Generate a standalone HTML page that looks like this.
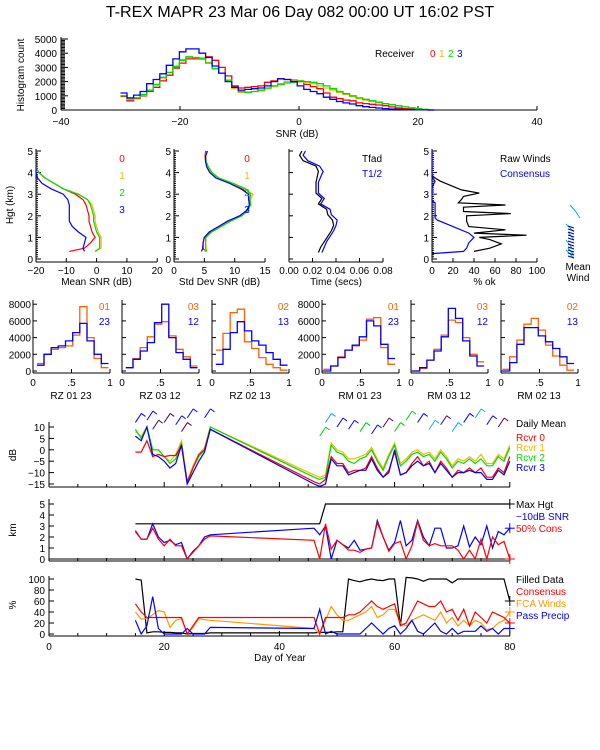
<!DOCTYPE html>
<html><head><meta charset="utf-8"><style>
body{margin:0;background:#fff;}
svg{display:block;font-family:"Liberation Sans",sans-serif;}
text{font-size:10px;}
</style></head><body>
<svg id="c" width="600" height="750" xmlns="http://www.w3.org/2000/svg">
<rect width="600" height="750" fill="#fff"/>
<text x="300" y="17" text-anchor="middle" style="font-size:16px">T-REX  MAPR 23 Mar 06 Day 082  00:00 UT  16:02  PST</text>
</svg>
<script>
// ---- top histogram data ----
const histEdgeStart = -30, histBinW = 1.1;
const histR0 = [950,650,800,1000,1300,1600,2050,2450,2950,3300,3600,3600,3600,3750,3500,3000,2400,1700,1550,1600,1650,1700,1950,2050,2200,2150,2100,2000,1800,1650,1500,1200,900,800,700,650,500,450,400,350,300,220,150,100,60,30,10,0];
const histR1 = [1000,750,850,1050,1400,1750,2250,2650,3100,3550,3700,3700,3650,3350,2950,2600,2100,1500,1250,1250,1300,1350,1500,1650,1850,2000,2050,2050,1950,1850,1700,1550,1400,1250,1100,950,800,700,600,520,430,360,290,220,150,90,40,0];
const histR2 = [1000,800,850,1100,1400,1800,2300,2650,3050,3500,3750,3700,3650,3300,2900,2600,2100,1600,1300,1250,1300,1400,1550,1700,1800,1900,1950,2050,2000,1950,1850,1700,1500,1300,1150,1000,850,750,650,550,450,380,300,220,150,90,40,0];
const histR3 = [1200,850,1050,1300,1850,2150,2550,3150,3600,4100,4300,4300,4000,3700,3100,2600,2000,1600,1400,1450,1500,1550,1700,2000,2200,2150,2000,1700,1450,1300,1150,900,750,600,500,420,300,230,180,140,100,70,50,30,20,10,5,0];
const histXTicks = [-40,-20,0,20,40];
const histYTicks = [0,1000,2000,3000,4000,5000];
// ---- profiles ----
const snrH = [0.35,0.5,0.75,1.0,1.25,1.5,1.75,2.0,2.25,2.5,2.75,3.0,3.25,3.5,3.75,4.0,4.2];
const snrR0 = [-9,-4,-2,-0.5,-1.5,-2,-2.5,-2.5,-3,-3.5,-4.5,-7,-11,-14,-17,-19,-20];
const snrR1 = [-0.5,1.5,1.5,1.5,0.5,0,-0.5,-0.5,-1,-1.5,-3,-6,-11,-14,-17,-19,-20];
const snrR2 = [-0.5,1,1,1,0,-0.5,-1,-1,-1.5,-2,-3,-6,-11,-14,-17,-19,-20];
const snrR3 = [-4,-4.5,-4,-3.5,-6,-8,-9,-9,-9,-9,-9.5,-11,-15,-18,-19.5,-20,-20];
const sdH = [0.35,0.5,0.75,1.0,1.25,1.5,1.75,2.0,2.25,2.5,2.75,3.0,3.25,3.5,3.75,4.0,4.25,4.5,4.75,5.0];
const sdR0 = [5.3,4.7,4.8,5,6,7.5,9,11,12,12.5,12.3,12.2,11.3,9.3,7,6,5.5,5.2,5.1,5.2];
const sdR1 = [5,5.3,5.2,5.3,6.2,7.7,9.2,11.1,12.1,12.6,12.6,13,11.6,9.6,7.2,6.1,5.6,5.2,5.2,5.3];
const sdR2 = [5.4,5.2,5.2,5.2,6.2,7.8,9.3,11.2,12.2,12.6,12.5,12.6,11.8,9.8,7.4,6.3,5.7,5.3,5.2,5.3];
const sdR3 = [4.5,4.8,4.8,5,5.8,7.3,8.8,10.8,12,12.4,12.3,12.3,11,9.2,6.9,5.9,5.4,5.2,5.2,5.5];
const tH = [0.3,0.55,0.8,1.05,1.3,1.55,1.8,2.05,2.3,2.55,2.8,3.05,3.3,3.55,3.8,4.05,4.3,4.55,4.8,5.0];
const tFad = [0.025,0.027,0.030,0.033,0.036,0.038,0.037,0.033,0.032,0.025,0.028,0.023,0.023,0.023,0.024,0.025,0.023,0.012,0.009,0.011];
const tHalf = [0.028,0.030,0.032,0.035,0.038,0.040,0.041,0.036,0.035,0.027,0.030,0.025,0.025,0.025,0.027,0.029,0.026,0.016,0.012,0.014];
const okH = [0.35,0.5,0.7,0.9,1.0,1.1,1.2,1.35,1.5,1.75,2.0,2.1,2.2,2.4,2.5,2.6,2.75,2.9,3.05,3.2,3.4,3.6,3.75,3.85];
const okRaw = [40,55,66,55,45,90,40,70,35,33,33,75,30,30,70,25,28,30,45,28,18,8,3,0];
const conH = [0.25,0.35,0.5,0.75,1.0,1.2,1.5,1.8,1.9,2.6,2.7,3.3,3.6,3.8,4.5,5.0];
const okCons = [0,30,33,35,40,35,20,5,3,3,0,0,3,0,0,0];
// ---- quality histograms ----
const qNames = ["RZ  01 23","RZ  03 12","RZ  02 13","RM  01 23","RM  03 12","RM  02 13"];
const qLegA = ["01","03","02","01","03","02"];
const qLegB = ["23","12","13","23","12","13"];
const qOrange = [[900,2000,2600,2800,3000,4300,7700,4000,1500,400],[400,1500,2800,4100,5600,5900,4200,2600,1700,600],[2500,4500,7000,7400,3500,2700,1600,800,400,100],[200,600,1700,2500,3000,3700,6200,6400,2800,800],[0,300,1300,2600,4300,6100,5800,4000,2000,1100],[200,1700,3700,5600,6300,4900,3100,1800,700,100]];
const qBlue = [[700,2000,2800,3000,3600,4600,5700,3600,2000,900],[400,1400,2400,3400,5800,8000,4000,2200,1400,400],[800,2600,4600,5900,4800,3600,3100,2200,1400,700],[0,600,1600,2500,3100,4100,6000,5400,3200,1500],[0,400,1300,2400,4100,7500,6300,3600,1800,600],[0,1000,3200,5200,5200,4200,3500,2700,1700,900]];
const qYTicks = [0,2000,4000,6000,8000];
// ---- time series ----
const days = [15,16,17,18,19,20,21,22,23,24,25,26,27,28,46,47,48,49,50,51,52,53,54,55,56,57,58,59,60,61,62,63,64,65,66,67,68,69,70,71,72,73,74,75,76,77,78,79,80];
const dbR0 = [-1,-1,4,-3,-2,-3,-2.5,-2.5,2,-14,-8,-2,0,9,-14,-15,-13,-3,-6,-6,-10,-9,-9,-8,-3,-8,-12,-9,-1,-11,-10,-6,-3,-7,-5,-10,-5,-8,-12,-9,-10,-8,-10,-8,-12,-12,-8,-10,-3];
const dbR1 = [8,6,10,0,0,-3,-5,-2,4,-14,-7,-2,1,10,-11,-12,-11,3,0,-1,-4,-4,-3,-2,1,-4,-8,-2,3,-6,-4,-1,0,-2,-1,-4,0,-3,-7,-4,-5,-3,-5,-2,-6,-6,-2,-4,2];
const dbR2 = [9,5,10,0,0,-3,-6,-4,3,-15,-8,-3,0,10,-12,-13,-12,2,-1,-2,-5,-6,-4,-3,0,-5,-9,-3,2,-7,-5,-2,-1,-3,-2,-5,-1,-4,-8,-5,-6,-4,-6,-4,-7,-7,-3,-5,1];
const dbR3 = [6,4,10,-2,-3,-5,-8,-6,2,-15,-10,-5,-1,9,-15,-16,-15,-4,-7,-7,-11,-10,-9,-9,-4,-9,-12,-10,0,-11,-10,-7,-5,-7,-6,-10,-6,-9,-12,-10,-10,-9,-10,-10,-13,-13,-9,-11,-5];
const barbDays = [15,17,18,20,22,23,24,27,47,48,50,52,54,56,58,60,62,64,66,68,70,72,74,76,78];
const barbVals = [12,13,9,12,11,8,14,14,6,12,10,9,8,7,10,8,13,12,9,11,8,12,14,11,10];
const barbColors = ["#00f","#00f","#505","#505","#00f","#505","#00f","#00f","#0c0","#1ad","#00f","#00f","#0c0","#00f","#505","#0c0","#0c0","#00f","#1ad","#505","#1ad","#00f","#1ad","#00f","#505"];
const maxHgtDays = [15,47,48,80];
const maxHgt = [3.2,3.2,5,5];
const kmSnr = [2.5,1.8,1.8,3.2,2,1.5,1.7,1.3,1.5,0,0.7,1.2,2,2.2,2.8,2.2,3,0,1.7,1.3,1,1.7,0.8,0.9,1,3.5,2,0.8,1.5,3.5,1.2,1.7,3.5,2,1.2,2.8,2.8,1,1,1.2,3,1.1,2,1.3,3,1,2.5,2.2,2.8];
const kmCons = [2.6,1.8,1.8,2.8,1.8,1.2,1.8,1.2,1.2,0,0.6,1.2,1.8,2.1,1.7,0,3.2,0.9,1.7,1.3,0.8,0.8,0.6,0.9,1,3.3,2,0.7,1.4,1.6,0,1.2,3.4,1.7,1.2,1.4,1.2,1.2,1.2,0.8,0,0.8,0,1.8,0,2,1.3,1.6,0];
const pctFilled = [100,98,2,4,4,3,3,2,2,0,1,1,1,2,2,3,3,3,4,4,100,97,95,98,100,98,97,100,100,15,103,102,100,96,100,100,100,100,93,100,100,100,100,100,100,100,100,100,60];
const pctCons = [55,40,30,30,30,30,30,30,30,0,15,30,30,30,30,0,30,30,30,30,35,35,40,50,60,50,45,50,55,15,20,40,60,55,50,50,60,40,45,25,45,15,40,30,20,40,35,30,20];
const pctFca = [40,27,28,35,43,40,12,25,28,0,12,28,26,25,10,0,25,50,35,25,25,30,35,40,50,30,35,45,45,20,15,25,30,35,30,25,40,20,30,15,25,15,25,20,8,10,20,25,40];
const pctPrecip = [25,0,15,68,10,0,0,0,0,10,0,0,0,12,10,45,0,5,0,0,0,0,0,10,20,10,0,10,15,0,10,25,5,0,10,20,5,0,10,0,5,5,5,15,5,10,0,10,10];
const dayTicks = [0,20,40,60,80];

const svg = document.getElementById('c');
const NS = 'http://www.w3.org/2000/svg';
function mk(tag, attrs){const e=document.createElementNS(NS,tag);for(const k in attrs)e.setAttribute(k,attrs[k]);svg.appendChild(e);return e;}
function txt(x,y,s,color,anchor,name,extra){
  const e=mk('text',{x:x,y:y,fill:color||'#000','text-anchor':anchor||'middle'});
  e.textContent=s;
  if(extra)e.setAttribute('transform',extra);
  
  
  return e;
}
function ln(x1,y1,x2,y2,color,name){
  const e=mk('line',{x1:x1,y1:y1,x2:x2,y2:y2,stroke:color||'#000','stroke-width':1});
  
  
  return e;
}
function poly(pts,color,name,w){
  const e=mk('polyline',{points:pts.map(p=>p[0].toFixed(1)+','+p[1].toFixed(1)).join(' '),fill:'none',stroke:color,'stroke-width':w||1.2});
  
  
  return e;
}
function stepPath(edges0,bw,vals,fx,fy,color,name){
  let d='M'+fx(edges0).toFixed(1)+','+fy(vals[0]).toFixed(1);
  for(let i=0;i<vals.length;i++){
    if(i>0)d+=' V'+fy(vals[i]).toFixed(1);
    d+=' H'+fx(edges0+bw*(i+1)).toFixed(1);
  }
  const e=mk('path',{d:d,fill:'none',stroke:color,'stroke-width':1.3});
  
  
  return e;
}
const RED='#f00',ORG='#f5b800',GRN='#0d0',BLU='#00f',OR2='#ff6000';

// ===== top histogram =====
{
  const fx=v=>61+(v+40)*5.95, fy=c=>110-c*0.0142;
  ln(61,110,537,110,'#000','hist-x-axis');
  ln(61,37,61,110,'#000','hist-y-axis');
  for(let c=0;c<=5000;c+=100){ln(61,fy(c),c%1000===0?68:65,fy(c),'#000','hist-y-tick');}
  histYTicks.forEach(t=>txt(57,fy(t)+4,String(t),'#000','end','hist-y-label'));
  histXTicks.forEach(t=>{ln(fx(t),110,fx(t),106,'#000','hist-x-tick');txt(fx(t),125,String(t).replace('-','\u2212'),'#000','middle','hist-x-label');});
  txt(297,137,'SNR (dB)','#000','middle','hist-x-title');
  txt(24,75,'Histogram count','#000','middle','hist-y-title','rotate(-90 24 75)');
  stepPath(histEdgeStart,histBinW,histR0,fx,fy,RED,'hist-receiver-0');
  stepPath(histEdgeStart,histBinW,histR1,fx,fy,ORG,'hist-receiver-1');
  stepPath(histEdgeStart,histBinW,histR2,fx,fy,GRN,'hist-receiver-2');
  stepPath(histEdgeStart,histBinW,histR3,fx,fy,BLU,'hist-receiver-3');
  txt(375,57,'Receiver','#000','start','legend-receiver');
  txt(430,57,'0',RED,'start','legend-r0');txt(439,57,'1',ORG,'start','legend-r1');
  txt(448,57,'2',GRN,'start','legend-r2');txt(457,57,'3',BLU,'start','legend-r3');
}
// ===== profile panels =====
const fyH=h=>259-h*21.6;
function profAxes(x0,x1,ticks,fx,title,name){
  ln(x0,262,x1,262,'#000',name+'-x-axis');
  ln(x0,149,x0,262,'#000',name+'-y-axis');
  for(let h=0;h<=5.0001;h+=0.1){ln(x0,fyH(h),x0+(Math.abs(h-Math.round(h))<0.01?5:2),fyH(h),'#000',name+'-y-tick');}
  for(let h=0;h<=5;h++)txt(x0-3,fyH(h)+4,String(h),'#000','end',name+'-y-label');
  ticks.forEach(t=>{ln(fx(t),262,fx(t),258,'#000',name+'-x-tick');txt(fx(t),274,String(t).replace('-','\u2212'),'#000','middle',name+'-x-label');});
  txt((x0+x1)/2,285,title,'#000','middle',name+'-x-title');
}
{
  const fx=v=>36+(v+20)*3.03;
  profAxes(36,157,[-20,-10,0,10,20],fx,'Mean SNR (dB)','mean-snr');
  txt(13,205,'Hgt (km)','#000','middle','height-title','rotate(-90 13 205)');
  poly(snrH.map((h,i)=>[fx(snrR0[i]),fyH(h)]),RED,'mean-snr-r0');
  poly(snrH.map((h,i)=>[fx(snrR1[i]),fyH(h)]),ORG,'mean-snr-r1');
  poly(snrH.map((h,i)=>[fx(snrR2[i]),fyH(h)]),GRN,'mean-snr-r2');
  poly(snrH.map((h,i)=>[fx(snrR3[i]),fyH(h)]),BLU,'mean-snr-r3');
  txt(122,162,'0',RED,'middle','mean-snr-legend-0');txt(122,179,'1',ORG,'middle','mean-snr-legend-1');
  txt(122,196,'2',GRN,'middle','mean-snr-legend-2');txt(122,213,'3',BLU,'middle','mean-snr-legend-3');
}
{
  const fx=v=>174+v*6.07;
  profAxes(174,265,[0,5,10,15],fx,'Std Dev SNR (dB)','std-snr');
  poly(sdH.map((h,i)=>[fx(sdR0[i]),fyH(h)]),RED,'std-snr-r0');
  poly(sdH.map((h,i)=>[fx(sdR1[i]),fyH(h)]),ORG,'std-snr-r1');
  poly(sdH.map((h,i)=>[fx(sdR2[i]),fyH(h)]),GRN,'std-snr-r2');
  poly(sdH.map((h,i)=>[fx(sdR3[i]),fyH(h)]),BLU,'std-snr-r3');
  txt(247,162,'0',RED,'middle','std-legend-0');txt(247,179,'1',ORG,'middle','std-legend-1');
  txt(247,196,'2',GRN,'middle','std-legend-2');txt(247,213,'3',BLU,'middle','std-legend-3');
}
{
  const fx=v=>289+v*1175;
  ln(289,262,383,262,'#000','time-x-axis');ln(289,149,289,262,'#000','time-y-axis');
  for(let h=0;h<=5;h++)ln(289,fyH(h),293,fyH(h),'#000','time-y-tick');
  [0,0.02,0.04,0.06,0.08].forEach(t=>{ln(fx(t),262,fx(t),258,'#000','time-x-tick');txt(fx(t),274,t.toFixed(2),'#000','middle','time-x-label');});
  txt(336,285,'Time (secs)','#000','middle','time-x-title');
  poly(tH.map((h,i)=>[fx(tFad[i]),fyH(h)]),'#000','tfad-line');
  poly(tH.map((h,i)=>[fx(tHalf[i]),fyH(h)]),BLU,'thalf-line');
  txt(362,162,'Tfad','#000','start','legend-tfad');txt(362,177,'T1/2',BLU,'start','legend-thalf');
}
{
  const fx=v=>432+v*1.05;
  profAxes(432,537,[0,20,40,60,80,100],fx,'% ok','pct-ok');
  poly(okH.map((h,i)=>[fx(okRaw[i]),fyH(h)]),'#000','raw-winds-line');
  poly(conH.map((h,i)=>[fx(okCons[i]),fyH(h)]),BLU,'consensus-line');
  txt(500,162,'Raw Winds','#000','start','legend-raw-winds');txt(500,177,'Consensus',BLU,'start','legend-consensus');
  const mw=[[570,205,576,212],[576,212,580,218],[566,224,574,232],[568,232,574,240],[566,240,572,248],[568,248,574,255],[566,250,574,258]];
  mw.forEach(s=>ln(s[0],s[1],s[2],s[3],'#1ad','mean-wind-stick'));
  for(let y=226;y<258;y+=3)ln(568,y,574,y+2,'#00a','mean-wind-stick');
  txt(578,270,'Mean','#000','middle','mean-wind-label');txt(578,281,'Wind','#000','middle','mean-wind-label');
}
// ===== quality histograms =====
{
  const lefts=[33,122,212,322,411,501];
  const fy=c=>371-c*0.00835;
  lefts.forEach((L,k)=>{
    const fx=v=>L+v*77;
    ln(L,373,L+77,373,'#000','qhist-x-axis');ln(L,300,L,373,'#000','qhist-y-axis');
    qYTicks.forEach(t=>{ln(L,fy(t),L+4,fy(t),'#000','qhist-y-tick');if(k===0||k===3)txt(L-2,fy(t)+4,String(t),'#000','end','qhist-y-label');});
    [[0,'0'],[0.5,'.5'],[1,'1']].forEach(t=>{ln(fx(t[0]),373,fx(t[0]),369,'#000','qhist-x-tick');txt(fx(t[0]),386,t[1],'#000','middle','qhist-x-label');});
    txt(L+38,399,qNames[k],'#000','middle','qhist-title');
    const start = k>=3?0.02:0.05;
    stepPath(start,0.093,qOrange[k],fx,fy,OR2,'qhist-orange');
    stepPath(start,0.093,qBlue[k],fx,fy,BLU,'qhist-blue');
    txt(L+77,310,qLegA[k],OR2,'end','qhist-legend-a');txt(L+77,325,qLegB[k],BLU,'end','qhist-legend-b');
  });
}
// ===== time series =====
const fxD=d=>49+d*5.76;
function dayAxis(yb,name){
  ln(49,yb,510,yb,'#000',name+'-x-axis');
  for(let d=0;d<=80;d+=5)ln(fxD(d),yb,fxD(d),yb-(d%20===0?5:3),'#000',name+'-x-tick');
}
{
  const fy=v=>427+(10-v)*2.28;
  dayAxis(487,'db');ln(49,422,49,487,'#000','db-y-axis');
  [10,5,0,-5,-10,-15].forEach(t=>{ln(49,fy(t),54,fy(t),'#000','db-y-tick');txt(45,fy(t)+4,String(t).replace('-','\u2212'),'#000','end','db-y-label');});
  txt(16,455,'dB','#000','middle','db-y-title','rotate(-90 16 455)');
  poly(days.map((d,i)=>[fxD(d),fy(dbR1[i])]),ORG,'db-rcvr1');
  poly(days.map((d,i)=>[fxD(d),fy(dbR2[i])]),GRN,'db-rcvr2');
  poly(days.map((d,i)=>[fxD(d),fy(dbR0[i])]),RED,'db-rcvr0');
  poly(days.map((d,i)=>[fxD(d),fy(dbR3[i])]),BLU,'db-rcvr3');
  barbDays.forEach((d,i)=>{const x=fxD(d),y=fy(barbVals[i]);ln(x,y,x+6,y-9,barbColors[i],'wind-barb');ln(x+6,y-9,x+10,y-6,barbColors[i],'wind-barb-flag');});
  txt(516,427,'Daily Mean','#000','start','legend-daily-mean');
  txt(516,441,'Rcvr 0',RED,'start','legend-rcvr0');txt(516,451,'Rcvr 1',ORG,'start','legend-rcvr1');
  txt(516,461,'Rcvr 2',GRN,'start','legend-rcvr2');txt(516,471,'Rcvr 3',BLU,'start','legend-rcvr3');
}
{
  const fy=v=>559-v*11;
  dayAxis(561,'km');ln(49,499,49,561,'#000','km-y-axis');
  ln(49,559,510,559,'#000','km-zero-line');
  [0,1,2,3,4,5].forEach(t=>{ln(49,fy(t),54,fy(t),'#000','km-y-tick');txt(45,fy(t)+4,String(t),'#000','end','km-y-label');});
  txt(16,530,'km','#000','middle','km-y-title','rotate(-90 16 530)');
  poly(maxHgtDays.map((d,i)=>[fxD(d),fy(maxHgt[i])]),'#000','max-hgt-line');
  poly(days.map((d,i)=>[fxD(d),fy(kmSnr[i])]),BLU,'snr-10db-line');
  poly(days.map((d,i)=>[fxD(d),fy(kmCons[i])]),RED,'cons-50-line');
  const plus=(v,c,n)=>{const x=fxD(80),y=fy(v);ln(x-5,y,x+5,y,c,n);ln(x,y-5,x,y+5,c,n);};
  plus(maxHgt[3],'#000','end-marker');plus(kmSnr[kmSnr.length-1],BLU,'end-marker');plus(kmCons[kmCons.length-1],RED,'end-marker');
  txt(516,508,'Max Hgt','#000','start','legend-max-hgt');
  txt(516,520,'\u221210dB SNR',BLU,'start','legend-10db-snr');
  txt(516,532,'50% Cons',RED,'start','legend-50-cons');
}
{
  const fy=v=>634-v*0.55;
  dayAxis(636,'pct');ln(49,576,49,636,'#000','pct-y-axis');
  [0,20,40,60,80,100].forEach(t=>{ln(49,fy(t),54,fy(t),'#000','pct-y-tick');txt(45,fy(t)+4,String(t),'#000','end','pct-y-label');});
  txt(16,605,'%','#000','middle','pct-y-title','rotate(-90 16 605)');
  poly(days.map((d,i)=>[fxD(d),fy(pctFilled[i])]),'#000','filled-data-line');
  poly(days.map((d,i)=>[fxD(d),fy(pctFca[i])]),'#f90','fca-winds-line');
  poly(days.map((d,i)=>[fxD(d),fy(pctCons[i])]),RED,'consensus-pct-line');
  poly(days.map((d,i)=>[fxD(d),fy(pctPrecip[i])]),BLU,'pass-precip-line');
  const plus=(v,c,n)=>{const x=fxD(80),y=fy(v);ln(x-5,y,x+5,y,c,n);ln(x,y-5,x,y+5,c,n);};
  plus(pctFilled[pctFilled.length-1],'#000','end-marker');plus(pctFca[pctFca.length-1],'#f90','end-marker');
  plus(pctCons[pctCons.length-1],RED,'end-marker');plus(pctPrecip[pctPrecip.length-1],BLU,'end-marker');
  dayTicks.forEach(t=>txt(fxD(t),650,String(t),'#000','middle','day-x-label'));
  txt(280,661,'Day of Year','#000','middle','day-x-title');
  txt(516,583,'Filled Data','#000','start','legend-filled-data');
  txt(516,595,'Consensus',RED,'start','legend-consensus-pct');
  txt(516,607,'FCA Winds','#f90','start','legend-fca-winds');
  txt(516,619,'Pass Precip',BLU,'start','legend-pass-precip');
}
</script>
</body></html>
